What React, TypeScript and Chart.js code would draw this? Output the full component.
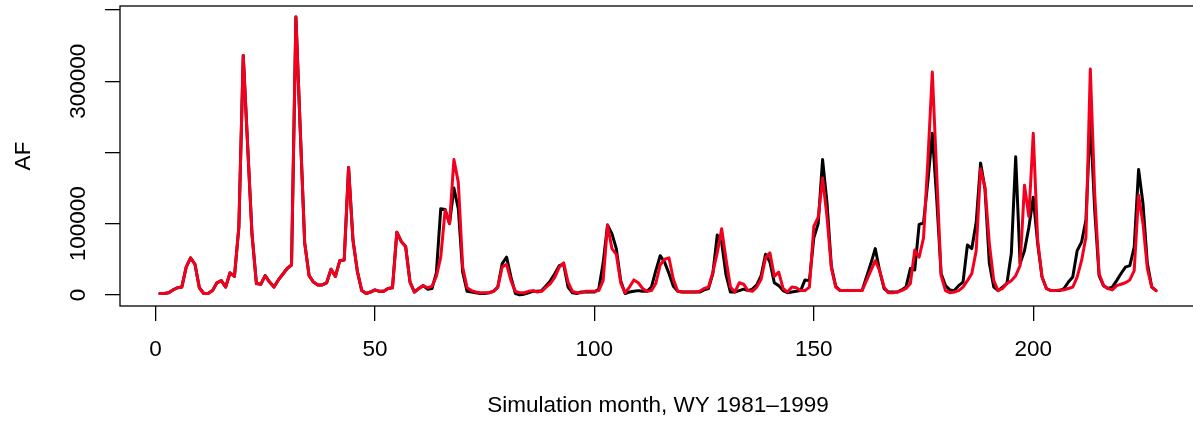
import React, { useEffect, useRef } from "react";
import { Chart, registerables } from "chart.js";

Chart.register(...registerables);

// Monthly volumes (AF), months 1..228, WY 1981-1999
const observedAF: number[] = [
  2000, 2000, 3000, 7000, 10000, 11000, 39000, 52000, 43000, 10000, 2000, 2000,
  6000, 17000, 20000, 11000, 31000, 26000, 95000, 336000, 210000, 85000, 16000, 15000,
  27000, 18000, 11000, 21000, 29000, 37000, 42000, 390000, 230000, 73000, 27000, 18000,
  14000, 14000, 17000, 36000, 26000, 48000, 49000, 179000, 77000, 33000, 6000, 2000,
  4000, 7000, 5000, 5000, 9000, 10000, 88000, 75000, 68000, 18000, 4000, 9000,
  13000, 8000, 9000, 31000, 121000, 120000, 100000, 150000, 121000, 32000, 5000, 4000,
  3000, 2000, 2000, 3000, 5000, 11000, 44000, 53000, 25000, 2000, 0, 1000,
  3000, 5000, 5000, 6000, 13000, 20000, 30000, 41000, 43000, 11000, 3000, 2000,
  4000, 4000, 4000, 4000, 8000, 45000, 98000, 86000, 65000, 20000, 2000, 4000,
  5000, 6000, 5000, 5000, 11000, 34000, 55000, 46000, 30000, 12000, 5000, 4000,
  4000, 4000, 4000, 4000, 7000, 9000, 30000, 84000, 74000, 28000, 4000, 4000,
  6000, 8000, 6000, 8000, 14000, 27000, 57000, 46000, 17000, 13000, 6000, 3000,
  4000, 5000, 6000, 21000, 20000, 80000, 100000, 190000, 130000, 40000, 12000, 6000,
  6000, 6000, 6000, 6000, 6000, 25000, 44000, 65000, 34000, 9000, 4000, 4000,
  4000, 7000, 11000, 37000, 35000, 99000, 101000, 160000, 227000, 135000, 30000, 13000,
  7000, 6000, 13000, 18000, 70000, 65000, 102000, 185000, 149000, 44000, 11000, 6000,
  11000, 16000, 58000, 194000, 44000, 62000, 95000, 137000, 72000, 25000, 9000, 6000,
  6000, 6000, 9000, 18000, 25000, 62000, 74000, 105000, 247000, 119000, 27000, 13000,
  9000, 11000, 20000, 30000, 39000, 41000, 67000, 176000, 128000, 44000, 11000, 6000,
];

const simulatedAF: number[] = [
  2000, 2000, 3000, 7000, 10000, 11000, 39000, 52000, 43000, 10000, 2000, 2000,
  6000, 17000, 20000, 11000, 31000, 26000, 95000, 336000, 210000, 85000, 16000, 15000,
  27000, 18000, 11000, 21000, 29000, 37000, 42000, 390000, 230000, 73000, 27000, 18000,
  14000, 14000, 17000, 36000, 26000, 48000, 49000, 179000, 77000, 33000, 6000, 2000,
  4000, 7000, 5000, 5000, 9000, 10000, 88000, 75000, 68000, 18000, 4000, 9000,
  13000, 10000, 12000, 26000, 53000, 119000, 100000, 190000, 158000, 39000, 10000, 6000,
  4000, 3000, 3000, 3000, 5000, 11000, 39000, 43000, 20000, 5000, 3000, 3000,
  5000, 6000, 4000, 5000, 11000, 16000, 25000, 39000, 45000, 18000, 5000, 3000,
  3000, 5000, 5000, 5000, 6000, 20000, 98000, 65000, 57000, 17000, 3000, 11000,
  21000, 17000, 9000, 5000, 6000, 16000, 42000, 50000, 52000, 22000, 5000, 4000,
  4000, 4000, 4000, 5000, 9000, 11000, 32000, 59000, 93000, 50000, 11000, 4000,
  17000, 15000, 6000, 5000, 11000, 22000, 52000, 59000, 26000, 32000, 9000, 4000,
  11000, 10000, 6000, 6000, 11000, 96000, 109000, 164000, 110000, 38000, 11000, 6000,
  6000, 6000, 6000, 6000, 6000, 20000, 34000, 48000, 34000, 11000, 3000, 3000,
  4000, 6000, 9000, 16000, 63000, 53000, 80000, 190000, 313000, 170000, 27000, 6000,
  3000, 4000, 6000, 11000, 20000, 30000, 62000, 177000, 151000, 72000, 20000, 6000,
  9000, 16000, 20000, 27000, 41000, 154000, 110000, 227000, 77000, 25000, 9000, 6000,
  6000, 7000, 7000, 9000, 11000, 25000, 48000, 81000, 317000, 142000, 30000, 13000,
  9000, 7000, 13000, 15000, 17000, 21000, 34000, 140000, 100000, 37000, 11000, 6000,
];

const xTickValues: number[] = [0, 50, 100, 150, 200];
const xTickLabels: string[] = ["0", "50", "100", "150", "200"];
const yTickValues: number[] = [0, 100000, 200000, 300000, 400000];
const yTickLabels: string[] = ["0", "100000", "", "300000", ""];

const xTitle = "Simulation month, WY 1981\u20131999";
const yTitle = "AF";

const RED = "#F4001E";
const BLACK = "#000000";
const FONT_FAMILY = "'Liberation Sans', Arial, Helvetica, sans-serif";

export default function App() {
  const ref = useRef<HTMLCanvasElement | null>(null);

  useEffect(() => {
    const canvas = ref.current;
    if (!canvas) return;

    const boxPlugin = {
      id: "rBox",
      afterDraw(chart: any) {
        const { ctx, chartArea: a } = chart;
        ctx.save();
        ctx.strokeStyle = "#000";
        ctx.lineWidth = 1.3;
        ctx.strokeRect(a.left, a.top, a.right - a.left, a.bottom - a.top);
        ctx.restore();
      },
    };

    const font = { family: FONT_FAMILY, size: 22.5 };

    const toPoints = (arr: number[]) => arr.map((v, i) => ({ x: i + 1, y: v }));

    const chart = new Chart(canvas, {
      type: "line",
      data: {
        datasets: [
          {
            label: "Simulated",
            data: toPoints(simulatedAF),
            borderColor: RED,
            backgroundColor: RED,
            borderWidth: 3,
            pointRadius: 0,
            tension: 0,
            order: 0,
            borderJoinStyle: "round",
            borderCapStyle: "round",
          },
          {
            label: "Observed",
            data: toPoints(observedAF),
            borderColor: BLACK,
            backgroundColor: BLACK,
            borderWidth: 3,
            pointRadius: 0,
            tension: 0,
            order: 1,
            borderJoinStyle: "round",
            borderCapStyle: "round",
          },
        ],
      },
      options: {
        responsive: false,
        animation: false,
        events: [],
        layout: { padding: { top: 6, right: 4, left: 0, bottom: 0 } },
        plugins: {
          legend: { display: false },
          tooltip: { enabled: false },
        },
        scales: {
          x: {
            type: "linear",
            min: -8.08,
            max: 237.08,
            afterBuildTicks: (s: any) => {
              s.ticks = xTickValues.map((v) => ({ value: v }));
            },
            afterFit: (s: any) => {
              s.height = 116;
            },
            border: { display: false },
            grid: {
              display: true,
              drawOnChartArea: false,
              drawTicks: true,
              tickLength: 15,
              color: "#000",
              lineWidth: 1.3,
            },
            ticks: {
              autoSkip: false,
              maxRotation: 0,
              minRotation: 0,
              padding: 15,
              color: "#000",
              font,
              callback: (value: any) => {
                const i = xTickValues.indexOf(Number(value));
                return i >= 0 ? xTickLabels[i] : "";
              },
            },
            title: {
              display: true,
              text: xTitle,
              color: "#000",
              font,
              padding: { top: 0, bottom: 2.5 },
            },
          },
          y: {
            type: "linear",
            min: -15600,
            max: 405600,
            afterBuildTicks: (s: any) => {
              s.ticks = yTickValues.map((v) => ({ value: v }));
            },
            afterFit: (s: any) => {
              s.width = 120;
            },
            border: { display: false },
            grid: {
              display: true,
              drawOnChartArea: false,
              drawTicks: true,
              tickLength: 15,
              color: "#000",
              lineWidth: 1.3,
            },
            ticks: {
              autoSkip: false,
              minRotation: 90,
              maxRotation: 90,
              crossAlign: "center",
              padding: -11.7,
              color: "#000",
              font,
              callback: (value: any) => {
                const i = yTickValues.indexOf(Number(value));
                return i >= 0 ? yTickLabels[i] : "";
              },
            },
            title: {
              display: true,
              text: yTitle,
              color: "#000",
              font,
              padding: { top: 10.5, bottom: 0 },
            },
          },
        },
      },
      plugins: [boxPlugin],
    } as any);

    return () => {
      chart.destroy();
    };
  }, []);

  return (
    <div
      style={{
        position: "fixed",
        left: 0,
        top: 0,
        width: 1193,
        height: 422,
        overflow: "hidden",
        background: "#fff",
      }}
    >
      <canvas ref={ref} width={1200} height={422} style={{ display: "block" }} />
    </div>
  );
}
